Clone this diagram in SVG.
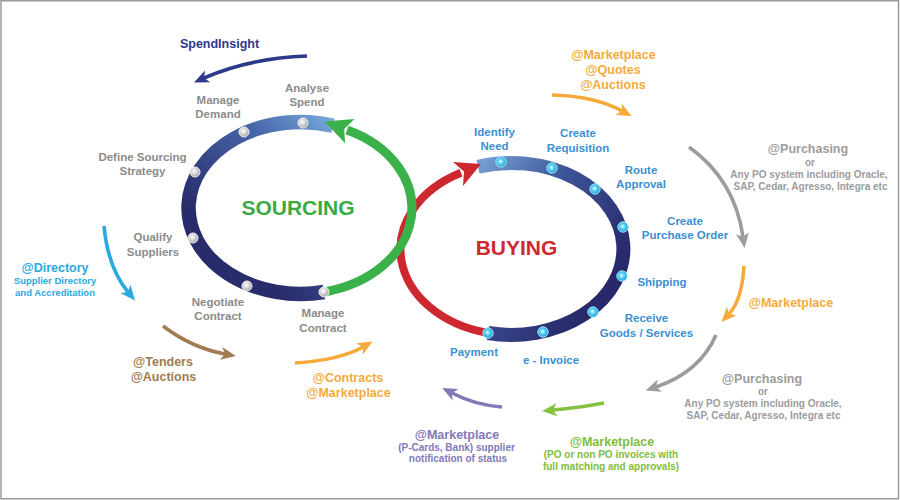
<svg xmlns="http://www.w3.org/2000/svg" width="900" height="500" viewBox="0 0 900 500">
<defs>
<style>
text{font-family:"Liberation Sans",Arial,sans-serif;font-weight:bold;text-anchor:middle}
.sl{font-size:11.5px;fill:#8b8b8b}
.bl{font-size:11.5px;fill:#3b8fd2}
.big{font-size:12.5px}
.sm{font-size:10px}
.conn{fill:none;stroke-width:3.6;stroke-linecap:butt}
.gdot{fill:url(#gdot);stroke:#f2f2f2;stroke-width:1}
.cdot{fill:url(#cdot);stroke:#9fe2f7;stroke-width:1}
</style>
<linearGradient id="srcg" gradientUnits="userSpaceOnUse" x1="345" y1="120" x2="230" y2="245">
<stop offset="0" stop-color="#7db1e2"/>
<stop offset="0.4" stop-color="#4767a9"/>
<stop offset="1" stop-color="#292c6b"/>
</linearGradient>
<linearGradient id="buyg" gradientUnits="userSpaceOnUse" x1="475" y1="160" x2="620" y2="265">
<stop offset="0" stop-color="#77a5d9"/>
<stop offset="0.45" stop-color="#3d5497"/>
<stop offset="1" stop-color="#27296a"/>
</linearGradient>
<radialGradient id="gdot" cx="0.42" cy="0.4" r="0.6">
<stop offset="0" stop-color="#ffffff"/>
<stop offset="0.55" stop-color="#d2d2d2"/>
<stop offset="1" stop-color="#a0a0a0"/>
</radialGradient>
<radialGradient id="cdot" cx="0.45" cy="0.45" r="0.6">
<stop offset="0" stop-color="#e9feff"/>
<stop offset="0.4" stop-color="#5ad2f4"/>
<stop offset="1" stop-color="#1597d5"/>
</radialGradient>
<marker id="m-navy" markerUnits="userSpaceOnUse" markerWidth="30" markerHeight="30" refX="0" refY="0" orient="auto" overflow="visible"><path d="M11,0 L-4,-6.5 L0,0 L-4,6.5 Z" fill="#2d3a8c"/></marker>
<marker id="m-cyan" markerUnits="userSpaceOnUse" markerWidth="30" markerHeight="30" refX="0" refY="0" orient="auto" overflow="visible"><path d="M11,0 L-4,-6.5 L0,0 L-4,6.5 Z" fill="#2aa8e0"/></marker>
<marker id="m-brown" markerUnits="userSpaceOnUse" markerWidth="30" markerHeight="30" refX="0" refY="0" orient="auto" overflow="visible"><path d="M11,0 L-4,-6.5 L0,0 L-4,6.5 Z" fill="#a17c50"/></marker>
<marker id="m-orange" markerUnits="userSpaceOnUse" markerWidth="30" markerHeight="30" refX="0" refY="0" orient="auto" overflow="visible"><path d="M11,0 L-4,-6.5 L0,0 L-4,6.5 Z" fill="#f6aa3c"/></marker>
<marker id="m-grey" markerUnits="userSpaceOnUse" markerWidth="30" markerHeight="30" refX="0" refY="0" orient="auto" overflow="visible"><path d="M11,0 L-4,-6.5 L0,0 L-4,6.5 Z" fill="#9c9c9c"/></marker>
<marker id="m-lime" markerUnits="userSpaceOnUse" markerWidth="30" markerHeight="30" refX="0" refY="0" orient="auto" overflow="visible"><path d="M11,0 L-4,-6.5 L0,0 L-4,6.5 Z" fill="#86c242"/></marker>
<marker id="m-purple" markerUnits="userSpaceOnUse" markerWidth="30" markerHeight="30" refX="0" refY="0" orient="auto" overflow="visible"><path d="M11,0 L-4,-6.5 L0,0 L-4,6.5 Z" fill="#8179b8"/></marker>
</defs>
<rect x="0" y="0" width="900" height="500" fill="#ffffff"/>
<rect x="1" y="0.75" width="897.5" height="498" fill="none" stroke="#9a9a9a" stroke-width="1.5"/>

<g id="sourcing-cycle">
<path d="M324,292 A112 86 0 1 1 333,125.6" fill="none" stroke="url(#srcg)" stroke-width="14.5"/>
</g>
<g id="buying-cycle">
<path d="M478,166.8 A112 86 0 1 1 488,333" fill="none" stroke="url(#buyg)" stroke-width="14"/>
<path d="M488,333 A112 86 0 0 1 461,172.7" fill="none" stroke="#cd2730" stroke-width="8"/>
<polygon points="481,164 453,162 464,171.5 463,186" fill="#cd2730"/>
</g>
<g id="sourcing-return">
<path d="M324,292 A112 86 0 0 0 347,130" fill="none" stroke="#3cb14a" stroke-width="9"/>
<polygon points="324.6,121.4 354.5,118.9 344.2,128.9 345.1,143.2" fill="#3cb14a"/>
</g>

<g id="sourcing-dots">
<circle class="gdot" cx="303" cy="123" r="5"/>
<circle class="gdot" cx="244" cy="132" r="5"/>
<circle class="gdot" cx="195" cy="172" r="5"/>
<circle class="gdot" cx="193" cy="238" r="5"/>
<circle class="gdot" cx="247" cy="286" r="5"/>
<circle class="gdot" cx="324" cy="292" r="5"/>
</g>
<g id="buying-dots">
<circle class="cdot" cx="501" cy="162" r="5.2"/>
<circle class="cdot" cx="552" cy="168" r="5.2"/>
<circle class="cdot" cx="595" cy="189" r="5.2"/>
<circle class="cdot" cx="623" cy="227" r="5.2"/>
<circle class="cdot" cx="622" cy="276" r="5.2"/>
<circle class="cdot" cx="593" cy="312" r="5.2"/>
<circle class="cdot" cx="543" cy="332" r="5.2"/>
<circle class="cdot" cx="488" cy="333" r="5.2"/>
</g>

<g id="sourcing-title"><text x="298" y="215" style="font-size:21px;fill:#3aa946">SOURCING</text></g>
<g id="buying-title"><text x="516.5" y="254.5" style="font-size:21px;fill:#cf2830">BUYING</text></g>

<g id="analyse-spend"><text class="sl" x="307" y="92">Analyse</text><text class="sl" x="307" y="106">Spend</text></g>
<g id="manage-demand"><text class="sl" x="218" y="104">Manage</text><text class="sl" x="218" y="118">Demand</text></g>
<g id="define-sourcing"><text class="sl" x="142.5" y="161">Define Sourcing</text><text class="sl" x="142.5" y="175">Strategy</text></g>
<g id="qualify-suppliers"><text class="sl" x="153" y="241">Qualify</text><text class="sl" x="153" y="256">Suppliers</text></g>
<g id="negotiate-contract"><text class="sl" x="218" y="306">Negotiate</text><text class="sl" x="218" y="320">Contract</text></g>
<g id="manage-contract"><text class="sl" x="323" y="317">Manage</text><text class="sl" x="323" y="332">Contract</text></g>

<g id="identify-need"><text class="bl" x="494.5" y="136">Identify</text><text class="bl" x="494.5" y="150">Need</text></g>
<g id="create-requisition"><text class="bl" x="578" y="137">Create</text><text class="bl" x="578" y="152">Requisition</text></g>
<g id="route-approval"><text class="bl" x="641" y="174">Route</text><text class="bl" x="641" y="188">Approval</text></g>
<g id="create-po"><text class="bl" x="685" y="225">Create</text><text class="bl" x="685" y="239">Purchase Order</text></g>
<g id="shipping"><text class="bl" x="662" y="286">Shipping</text></g>
<g id="receive-goods"><text class="bl" x="646.5" y="322">Receive</text><text class="bl" x="646.5" y="337">Goods / Services</text></g>
<g id="e-invoice"><text class="bl" x="551" y="364">e - Invoice</text></g>
<g id="payment"><text class="bl" x="474" y="356">Payment</text></g>

<g id="spendinsight"><text class="big" x="219.5" y="47.5" fill="#2d3a8c">SpendInsight</text></g>
<g id="directory"><text class="big" x="55" y="271.5" fill="#2aa8e0">@Directory</text><text x="55" y="283.5" style="font-size:9.5px;fill:#2aa8e0">Supplier Directory</text><text x="55" y="295.5" style="font-size:9.5px;fill:#2aa8e0">and Accreditation</text></g>
<g id="tenders"><text class="big" x="163" y="365.5" fill="#a17c50">@Tenders</text><text class="big" x="163.5" y="380.5" fill="#a17c50">@Auctions</text></g>
<g id="contracts"><text class="big" x="348" y="381.5" fill="#f6aa3c">@Contracts</text><text class="big" x="348.5" y="396.5" fill="#f6aa3c">@Marketplace</text></g>
<g id="marketplace-quotes"><text class="big" x="613.5" y="58.5" fill="#f6aa3c">@Marketplace</text><text class="big" x="613" y="73.5" fill="#f6aa3c">@Quotes</text><text class="big" x="613" y="88.5" fill="#f6aa3c">@Auctions</text></g>
<g id="purchasing-top"><text class="big" x="808" y="152.5" fill="#9c9c9c">@Purchasing</text><text class="sm" x="810" y="165.5" fill="#9c9c9c">or</text><text class="sm" x="809" y="177.5" fill="#9c9c9c">Any PO system including Oracle,</text><text class="sm" x="810.5" y="189.5" fill="#9c9c9c">SAP, Cedar, Agresso, Integra etc</text></g>
<g id="marketplace-right"><text class="big" x="791" y="307" fill="#f6aa3c">@Marketplace</text></g>
<g id="purchasing-bottom"><text class="big" x="762" y="382.5" fill="#9c9c9c">@Purchasing</text><text class="sm" x="763" y="394.5" fill="#9c9c9c">or</text><text class="sm" x="763" y="406.5" fill="#9c9c9c">Any PO system including Oracle,</text><text class="sm" x="763.5" y="418.5" fill="#9c9c9c">SAP, Cedar, Agresso, Integra etc</text></g>
<g id="marketplace-invoices"><text class="big" x="612" y="445.5" fill="#80bd3c">@Marketplace</text><text class="sm" x="611" y="457.5" fill="#80bd3c">(PO or non PO invoices with</text><text class="sm" x="611" y="469.5" fill="#80bd3c">full matching and approvals)</text></g>
<g id="marketplace-payment"><text class="big" x="457" y="438.5" fill="#8179b8">@Marketplace</text><text class="sm" x="456.5" y="450.5" fill="#8179b8">(P-Cards, Bank) supplier</text><text class="sm" x="458" y="461.5" fill="#8179b8">notification of status</text></g>

<g id="connectors">
<path class="conn" d="M307,56 Q250,58 204,78" stroke="#2d3a8c" marker-end="url(#m-navy)"/>
<path class="conn" d="M104,226 Q108,268 128,292" stroke="#2aa8e0" marker-end="url(#m-cyan)"/>
<path class="conn" d="M163,326 Q192,348 225,354" stroke="#a17c50" marker-end="url(#m-brown)"/>
<path class="conn" d="M295,363 Q340,360 363,347" stroke="#f6aa3c" marker-end="url(#m-orange)"/>
<path class="conn" d="M552,95 Q595,96 622,111" stroke="#f6aa3c" marker-end="url(#m-orange)"/>
<path class="conn" d="M689,147 Q735,180 743,237" stroke="#9c9c9c" marker-end="url(#m-grey)"/>
<path class="conn" d="M744,266 Q742,300 729,314" stroke="#f6aa3c" marker-end="url(#m-orange)"/>
<path class="conn" d="M716,335 Q700,372 656,387" stroke="#9c9c9c" marker-end="url(#m-grey)"/>
<path class="conn" d="M604,403 Q577,408 553,410" stroke="#86c242" marker-end="url(#m-lime)"/>
<path class="conn" d="M502,407 Q475,405 452,393" stroke="#8179b8" marker-end="url(#m-purple)"/>
</g>
</svg>
